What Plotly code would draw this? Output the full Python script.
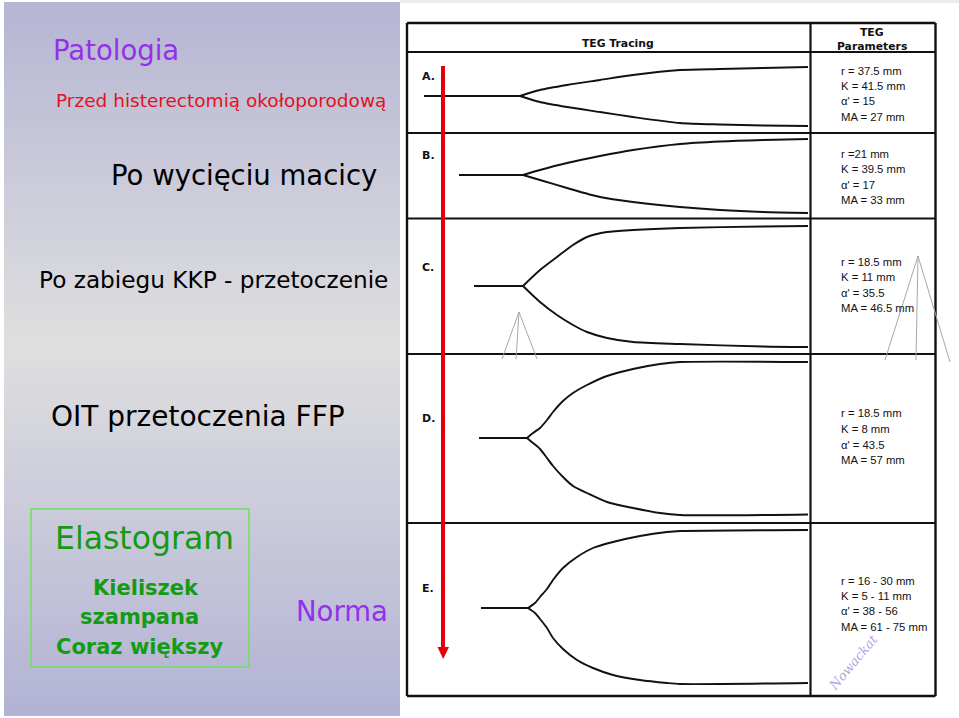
import plotly.graph_objects as go

# ---------------- data ----------------
slide_texts = ["Patologia", "Przed histerectomią okołoporodową", "Po wycięciu macicy",
               "Po zabiegu KKP - przetoczenie", "OIT przetoczenia FFP", "Elastogram",
               "Kieliszek", "szampana", "Coraz większy", "Norma"]

header_texts = ["TEG Tracing", "TEG", "Parameters"]
row_labels = ["A.", "B.", "C.", "D.", "E."]
param_texts = [
    ["r = 37.5 mm", "K = 41.5 mm", "α' = 15", "MA = 27 mm"],
    ["r =21 mm", "K = 39.5 mm", "α' = 17", "MA = 33 mm"],
    ["r = 18.5 mm", "K = 11 mm", "α' = 35.5", "MA = 46.5 mm"],
    ["r = 18.5 mm", "K = 8 mm", "α' = 43.5", "MA = 57 mm"],
    ["r = 16 - 30 mm", "K = 5 - 11 mm", "α' = 38 - 56", "MA = 61 - 75 mm"],
]
signature_text = "Nowackat"

# TEG tracings (x along time, upper / lower branch values)
A_x = [424, 520, 540, 567, 600, 633, 680, 720, 763, 808]
A_up = [96, 96, 90, 85, 80, 75, 70, 69, 68, 67]
A_lo = [96, 96, 102, 107, 112, 117, 123, 124.5, 125.5, 126]

B_x = [459, 523, 540, 567, 600, 633, 680, 720, 763, 808]
B_up = [175, 175, 170, 163, 156, 150, 144, 141.5, 140, 139]
B_lo = [175, 175, 180, 188, 197, 202, 207, 210, 212, 213]

C_x = [474, 523, 540, 557, 573, 587, 607, 633, 680, 763, 808]
C_up = [286, 286, 270, 257, 245, 237, 232, 230, 228, 226.5, 226]
C_lo = [286, 286, 302, 315, 325, 332, 338, 342, 344, 346.5, 347]

D_x = [479, 527, 533, 540, 547, 553, 563, 573, 587, 607, 633, 660, 680, 808]
D_up = [438, 438, 433, 428, 420, 412, 401, 393, 385, 376, 369, 364, 362, 362]
D_lo = [438, 438, 443, 449, 458, 466, 477, 486, 493, 502, 508, 513, 515, 514.5]

E_x = [481, 528, 535, 540, 547, 553, 563, 577, 593, 613, 640, 667, 680, 808]
E_up = [608, 608, 603, 597, 589, 580, 568, 557, 548, 542, 536, 532, 531, 530]
E_lo = [608, 608, 613, 619, 628, 638, 649, 660, 668, 675, 680, 683, 684, 683]

tracings = [(A_x, A_up, A_lo), (B_x, B_up, B_lo), (C_x, C_up, C_lo),
            (D_x, D_up, D_lo), (E_x, E_up, E_lo)]

# ---------------- figure ----------------
W, H = 959, 718
fig = go.Figure()

# left panel gradient background
fig.add_trace(go.Scatter(
    x=[4, 400, 400, 4, 4], y=[2, 2, 716, 716, 2], mode="lines",
    line=dict(width=0), fill="toself", hoverinfo="skip",
    fillgradient=dict(type="vertical",
                      colorscale=[[0, "#b2b2d5"], [0.52, "#dfdfdf"], [1, "#b5b5d4"]])))

# tracings
for xs, up, lo in tracings:
    fig.add_trace(go.Scatter(x=xs[:2], y=up[:2], mode="lines",
                             line=dict(color="#111111", width=1.9), hoverinfo="skip"))
    fig.add_trace(go.Scatter(x=xs[1:], y=up[1:], mode="lines",
                             line=dict(color="#111111", width=1.9, shape="spline", smoothing=0.7),
                             hoverinfo="skip"))
    fig.add_trace(go.Scatter(x=xs[1:], y=lo[1:], mode="lines",
                             line=dict(color="#111111", width=1.9, shape="spline", smoothing=0.7),
                             hoverinfo="skip"))

shapes = []
# thin grey strip at top of right panel
shapes.append(dict(type="rect", x0=400, x1=959, y0=0, y1=3, line=dict(width=0), fillcolor="#ececec"))

# table grid
T_L, T_R, T_DIV = 407, 935.5, 810.5
h_lines = [23, 52, 133, 218.5, 354, 523, 696]
for i, yv in enumerate(h_lines):
    shapes.append(dict(type="line", x0=T_L, x1=T_R, y0=yv, y1=yv,
                       line=dict(color="#111111", width=2.4 if i in (0, len(h_lines) - 1) else 2)))
for xv, w in [(T_L, 2.4), (T_DIV, 2.2), (T_R, 2.4)]:
    shapes.append(dict(type="line", x0=xv, x1=xv, y0=23, y1=696, line=dict(color="#111111", width=w)))

# grey leftover callout lines
for (ax, ay), legs in [((519, 312), [(502, 359), (516, 359), (537, 359)]),
                       ((918, 256), [(885, 360), (916, 360), (950, 362)])]:
    for lx, ly in legs:
        shapes.append(dict(type="line", x0=ax, y0=ay, x1=lx, y1=ly,
                           line=dict(color="#a8a8a8", width=1)))

# red arrow
shapes.append(dict(type="line", x0=443, x1=443, y0=66, y1=648, line=dict(color="#e3000b", width=4)))
shapes.append(dict(type="path", path="M 437.5 647 L 449 647 L 443.2 659 Z",
                   fillcolor="#e3000b", line=dict(width=0)))

# green box
shapes.append(dict(type="rect", x0=31, x1=249, y0=509, y1=667,
                   line=dict(color="#6ee25a", width=1.5), fillcolor="rgba(0,0,0,0)"))

annotations = []
SF = "DejaVu Sans"
TF = "Liberation Sans"


def ann(text, x, y, size, color, family=SF, xanchor="left", weight="normal", **kw):
    annotations.append(dict(text=text, x=x, y=y, xref="x", yref="y", showarrow=False,
                            xanchor=xanchor, yanchor="middle",
                            font=dict(family=family, size=size, color=color, weight=weight), **kw))


purple = "#9430ea"
ann(slide_texts[0], 51, 50, 27.5, purple)
ann(slide_texts[1], 54, 100, 18.5, "#e0141a")
ann(slide_texts[2], 109, 175, 27.5, "#000000")
ann(slide_texts[3], 37, 279.5, 23.2, "#000000")
ann(slide_texts[4], 49, 416, 28, "#000000")
green = "#139b13"
ann(slide_texts[5], 53, 538, 31.5, green)
ann(slide_texts[6], 145.5, 587.5, 21, green, xanchor="center", weight="bold")
ann(slide_texts[7], 139, 617, 21, green, xanchor="center", weight="bold")
ann(slide_texts[8], 139, 647, 21, green, xanchor="center", weight="bold")
ann(slide_texts[9], 294, 611, 27.5, purple)

# table headers
ann(header_texts[0], 618, 43.5, 10.8, "#111111", xanchor="center", weight="bold")
ann(header_texts[1], 872, 32.5, 10.8, "#111111", xanchor="center", weight="bold")
ann(header_texts[2], 872, 46, 10.8, "#111111", xanchor="center", weight="bold")

# row labels and params
label_y = [76, 155, 267, 418, 588]
param_y = [[71, 86, 101, 117], [154, 169, 185, 200], [262, 277, 293, 308],
           [413, 429, 445, 460], [581, 596, 611, 627]]
for i, lab in enumerate(row_labels):
    ann(lab, 420, label_y[i], 11, "#111111", weight="bold")
    for j, t in enumerate(param_texts[i]):
        ann(t, 839, param_y[i][j], 11.3, "#111111", family=TF)

# signature
annotations.append(dict(text=signature_text, x=853, y=662, xref="x", yref="y", showarrow=False,
                        textangle=-50,
                        font=dict(family="DejaVu Serif", size=13, color="#b3a3e6", style="italic")))

fig.update_layout(
    width=W, height=H, margin=dict(l=0, r=0, t=0, b=0),
    paper_bgcolor="white", plot_bgcolor="white", showlegend=False,
    xaxis=dict(range=[0, W], visible=False, fixedrange=True),
    yaxis=dict(range=[H, 0], visible=False, fixedrange=True),
    shapes=shapes, annotations=annotations,
)

fig.write_html("out.html", config={"displayModeBar": False},
               post_script="document.body.style.margin='0';document.body.style.overflow='hidden';")
